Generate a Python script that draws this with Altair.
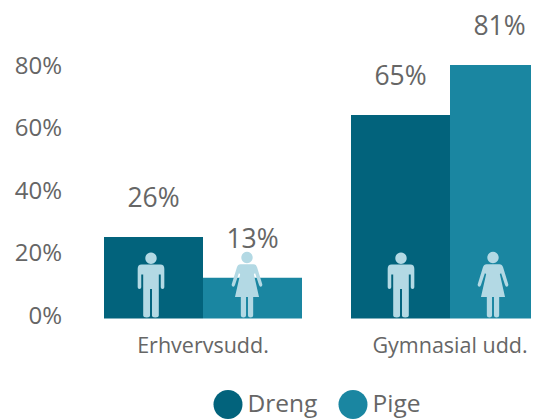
import altair as alt
import pandas as pd

groups = ["Erhvervsudd.", "Gymnasial udd."]
genders = ["Dreng", "Pige"]
dreng = [26, 65]
pige = [13, 81]
tick_values = [0, 20, 40, 60, 80]

DARK = "#02637c"
LIGHT = "#1a86a1"
ICON = "#b3d9e4"
TEXT = "#666666"
FONT = "Open Sans"

rows = []
for i, g in enumerate(groups):
    rows.append({"udd": g, "kon": "Dreng", "pct": dreng[i], "lab": f"{dreng[i]}%"})
    rows.append({"udd": g, "kon": "Pige", "pct": pige[i], "lab": f"{pige[i]}%"})
df = pd.DataFrame(rows)

head = lambda cy: f"M-0.175,{cy} A0.175,0.175 0 1 1 0.175,{cy} A0.175,0.175 0 1 1 -0.175,{cy} Z "
MAN = (head(-0.825) +
       "M-0.29,-0.63 L0.29,-0.63 Q0.41,-0.63 0.41,-0.5 L0.41,0.07 Q0.41,0.12 0.355,0.12 "
       "Q0.30,0.12 0.30,0.07 L0.30,-0.32 L0.24,-0.32 L0.24,0.94 Q0.24,1 0.13,1 Q0.03,1 0.03,0.94 "
       "L0.03,0.12 L-0.03,0.12 L-0.03,0.94 Q-0.03,1 -0.13,1 Q-0.24,1 -0.24,0.94 L-0.24,-0.32 "
       "L-0.30,-0.32 L-0.30,0.07 Q-0.30,0.12 -0.355,0.12 Q-0.41,0.12 -0.41,0.07 L-0.41,-0.5 "
       "Q-0.41,-0.63 -0.29,-0.63 Z")
WOMAN = (head(-0.845) +
         "M-0.2,-0.64 L0.2,-0.64 Q0.28,-0.64 0.31,-0.55 L0.47,-0.02 Q0.48,0.04 0.43,0.05 "
         "Q0.39,0.06 0.37,0 L0.25,-0.36 L0.21,-0.34 L0.37,0.37 L0.19,0.37 L0.19,0.94 Q0.19,1 0.11,1 "
         "Q0.03,1 0.03,0.94 L0.03,0.37 L-0.03,0.37 L-0.03,0.94 Q-0.03,1 -0.11,1 Q-0.19,1 -0.19,0.94 "
         "L-0.19,0.37 L-0.37,0.37 L-0.21,-0.34 L-0.25,-0.36 L-0.37,0 Q-0.39,0.06 -0.43,0.05 "
         "Q-0.48,0.04 -0.47,-0.02 L-0.31,-0.55 Q-0.28,-0.64 -0.2,-0.64 Z")

x = alt.X("udd:N", sort=groups,
          scale=alt.Scale(range=[0, 494], paddingInner=0.1984, paddingOuter=0.0992),
          axis=alt.Axis(title=None, ticks=False, domain=False, labelAngle=0, labelFont=FONT,
                        labelFontSize=21.5, labelColor=TEXT, labelPadding=17, labelOverlap=False))
xo = alt.XOffset("kon:N", sort=genders)
y = alt.Y("pct:Q",
          scale=alt.Scale(domain=[0, 99.2], nice=False),
          axis=alt.Axis(title=None, values=tick_values, ticks=False, domain=False, grid=False,
                        labelExpr="datum.value + '%'", labelFont=FONT, labelFontSize=24,
                        labelColor=TEXT, labelPadding=18, labelOffset=-2))

bars = alt.Chart(df).mark_bar(strokeWidth=0).encode(
    x=x, xOffset=xo, y=y,
    color=alt.Color("kon:N", sort=genders, scale=alt.Scale(domain=genders, range=[DARK, LIGHT]),
                    legend=alt.Legend(title=None, orient="none", direction="horizontal", columns=2,
                                      legendX=134, legendY=382, symbolType="circle", symbolSize=841,
                                      symbolStrokeWidth=0, labelFont=FONT, labelFontSize=24.5,
                                      labelColor=TEXT, labelOffset=5, columnPadding=21, padding=0,
                                      labelLimit=0)),
)

labels = alt.Chart(df).mark_text(font=FONT, fontSize=26.5, color=TEXT, dy=-38, baseline="middle").encode(
    x=x, xOffset=xo, y=y, text="lab:N")

ICON_LEVEL = 10.7
icon_offsets = {("Erhvervsudd.", "Dreng"): 47, ("Erhvervsudd.", "Pige"): 143,
                ("Gymnasial udd.", "Dreng"): 50, ("Gymnasial udd.", "Pige"): 142}
icons = []
for (g, k), off in icon_offsets.items():
    icons.append(
        alt.Chart(pd.DataFrame({"udd": [g], "kon": [k], "pct": [ICON_LEVEL]})).mark_point(
            filled=True, shape=MAN if k == "Dreng" else WOMAN, size=4225, color=ICON, opacity=1,
            strokeWidth=0
        ).encode(x=x, xOffset=alt.XOffset(value=off), y=y)
    )

chart = alt.layer(bars, *icons, labels).properties(
    width=451.5, height=310.5,
    autosize=alt.AutoSizeParams(type="none"),
    padding={"left": 71.5, "top": 0, "right": 0, "bottom": 101},
).configure_view(stroke=None)

chart.save("out.html", embed_options={"renderer": "svg", "actions": False})
